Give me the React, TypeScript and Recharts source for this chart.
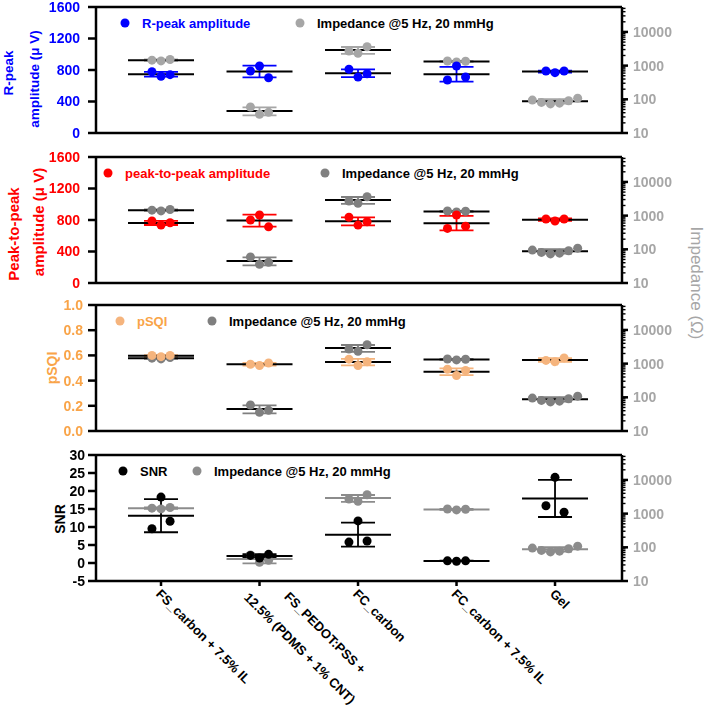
import React from "react";
import { ComposedChart, Scatter, XAxis, YAxis, ErrorBar } from "recharts";

const FONT = "'Liberation Sans', Arial, sans-serif";

const groups = [
  "FS_carbon + 7.5% IL",
  "FS_PEDOT:PSS +\n12.5% (PDMS + 1% CNT)",
  "FC_carbon",
  "FC_carbon + 7.5% IL",
  "Gel",
];

// values per group
const rPeakAmplitude = [[778, 720, 741], [787, 851, 702], [810, 711, 753], [673, 851, 711], [787, 766, 787]];
const peakToPeakAmplitude = [[787, 735, 765], [800, 864, 713], [835, 735, 778], [693, 864, 722], [813, 787, 813]];
const pSQI = [[0.6, 0.59, 0.6], [0.53, 0.52, 0.54], [0.57, 0.52, 0.55], [0.49, 0.44, 0.48], [0.56, 0.55, 0.58]];
const snr = [[9.5, 18.3, 11.6], [2.1, 1.4, 2.4], [5.8, 11.7, 6.1], [0.6, 0.5, 0.6], [15.9, 23.8, 14.1]];
const impedance = [[1450, 1380, 1520], [59, 36, 41], [2720, 2330, 3640], [1370, 1290, 1350], [95, 81, 73, 77, 91, 108]];

const amplitudeTicks = [0, 400, 800, 1200, 1600];
const pSQITicks = [0, 0.2, 0.4, 0.6, 0.8, 1.0];
const snrTicks = [-5, 0, 5, 10, 15, 20, 25, 30];
const impedanceMajor = [10, 100, 1000, 10000];
const impedanceDomain: [number, number] = [10, 55000];
const impedanceTicks = impedanceMajor.flatMap((d) =>
  [1, 2, 3, 4, 5, 6, 7, 8, 9].map((k) => d * k).filter((v) => v <= impedanceDomain[1])
);

const xTicks = [1, 2, 3, 4, 5];
const xDomain: [number, number] = [0.34, 5.68];

function points(values: number[][]) {
  return values.flatMap((v, i) =>
    v.map((y, j) => ({ x: i + 1 + (j - (v.length - 1) / 2) * 0.092, y }))
  );
}

function stats(values: number[][]) {
  return values.map((v, i) => {
    const mean = v.reduce((a, b) => a + b, 0) / v.length;
    const sd = Math.sqrt(v.reduce((a, b) => a + (b - mean) ** 2, 0) / (v.length - 1));
    return { x: i + 1, y: mean, err: sd };
  });
}

const axisStroke = { stroke: "#000", strokeWidth: 2.5 };

const panels = [
  {
    top: 1,
    values: rPeakAmplitude,
    name: "R-peak amplitude",
    color: "#0000FF",
    text: "#0000FF",
    imp: "#A6A6A6",
    impMean: "#000",
    domain: [0, 1600],
    ticks: amplitudeTicks,
    fmt: (v: number) => String(v),
    tickMargin: 8,
    titleSize: 13.5,
    title: [
      { t: "R-peak", x: 12.5, dy: 3 },
      { t: "amplitude (μ V)", x: 39, dy: 9 },
    ],
    legend: [29, 204],
  },
  {
    top: 151,
    values: peakToPeakAmplitude,
    name: "peak-to-peak amplitude",
    color: "#FF0000",
    text: "#FF0000",
    imp: "#808080",
    impMean: "#000",
    domain: [0, 1600],
    ticks: amplitudeTicks,
    fmt: (v: number) => String(v),
    tickMargin: 8,
    titleSize: 15,
    title: [
      { t: "Peak-to-peak", x: 19, dy: 14 },
      { t: "amplitude (μ V)", x: 44, dy: 2 },
    ],
    legend: [12, 229],
  },
  {
    top: 299,
    values: pSQI,
    name: "pSQI",
    color: "#F5B47D",
    text: "#F9A448",
    imp: "#7F7F7F",
    impMean: "#000",
    domain: [0, 1],
    ticks: pSQITicks,
    fmt: (v: number) => v.toFixed(1),
    tickMargin: 5,
    titleSize: 14,
    title: [{ t: "pSQI", x: 57, dy: 0 }],
    legend: [24, 116],
  },
  {
    top: 449,
    values: snr,
    name: "SNR",
    color: "#000",
    text: "#000",
    imp: "#8C8C8C",
    impMean: "#8C8C8C",
    domain: [-5, 30],
    ticks: snrTicks,
    fmt: (v: number) => String(v),
    tickMargin: 3,
    titleSize: 14,
    title: [{ t: "SNR", x: 65, dy: 1 }],
    legend: [27, 101],
  },
];

const meanLine = (color: string) => (p: any) => (
  <line x1={p.cx - 33} x2={p.cx + 33} y1={p.cy} y2={p.cy} stroke={color} strokeWidth={2} />
);

const dot = (color: string) => (p: any) => <circle cx={p.cx} cy={p.cy} r={4.5} fill={color} />;

function ImpedanceTick(props: any) {
  const { x, y, payload } = props;
  const major = impedanceMajor.includes(payload.value);
  return (
    <g>
      <line x1={x} x2={x + (major ? 6 : 3.5)} y1={y} y2={y} stroke="#000" strokeWidth={major ? 2.5 : 1.4} />
      {major && (
        <text x={x + 11} y={y} dy="0.35em" fill="#A6A6A6" fontSize={14} fontWeight="bold" fontFamily={FONT}>
          {payload.value}
        </text>
      )}
    </g>
  );
}

function GroupTick(props: any) {
  const { x, y, payload } = props;
  const lines = groups[payload.value - 1].split("\n");
  const pos = lines.length === 1 ? [{ x: 0, y: 8 }] : [{ x: 23, y: -11 }, { x: -5, y: 18 }];
  return (
    <g transform={`translate(${x},${y}) rotate(45)`}>
      {lines.map((t, i) => (
        <text key={i} x={pos[i].x} y={pos[i].y} fill="#000" fontSize={13} fontWeight="bold" fontFamily={FONT}>
          {t}
        </text>
      ))}
    </g>
  );
}

function Panel({ p, last }: { p: (typeof panels)[number]; last: boolean }) {
  const height = last ? 6 + 126 + 141 : 6 + 126 + 10;
  const titleContent = (props: any) => {
    const vb = props.viewBox;
    const cy = vb.y + vb.height / 2;
    return (
      <g>
        {p.title.map((l, i) => (
          <text
            key={i}
            transform={`translate(${l.x},${cy + l.dy}) rotate(-90)`}
            textAnchor="middle"
            fill={p.text}
            fontSize={p.titleSize}
            fontWeight="bold"
            fontFamily={FONT}
          >
            {l.t}
          </text>
        ))}
      </g>
    );
  };
  const legendContent = (props: any) => {
    const vb = props.viewBox;
    const y = vb.y + vb.height + 16;
    const items = [
      { label: p.name, dot: p.color, text: p.text },
      { label: "Impedance @5 Hz, 20 mmHg", dot: p.imp, text: "#000" },
    ];
    return (
      <g>
        {items.map((it, i) => (
          <g key={i}>
            <circle cx={vb.x + p.legend[i]} cy={y} r={4.5} fill={it.dot} />
            <text
              x={vb.x + p.legend[i] + 17}
              y={y}
              dy="0.35em"
              fill={it.text}
              fontSize={13}
              fontWeight="bold"
              fontFamily={FONT}
            >
              {it.label}
            </text>
          </g>
        ))}
      </g>
    );
  };
  const rightTitle = (props: any) => {
    const vb = props.viewBox;
    return (
      <text
        transform={`translate(${vb.x + 68.5},${vb.y + vb.height / 2 + 63}) rotate(90)`}
        textAnchor="middle"
        fill="#A6A6A6"
        fontSize={17}
        fontFamily={FONT}
      >
        Impedance (Ω)
      </text>
    );
  };

  return (
    <div style={{ position: "absolute", left: 0, top: p.top }}>
      <ComposedChart width={709} height={height} margin={{ top: 0, right: 0, bottom: 0, left: 0 }}>
        <XAxis
          xAxisId="top"
          orientation="top"
          type="number"
          dataKey="x"
          domain={xDomain}
          ticks={xTicks}
          height={6}
          tick={false}
          tickSize={5}
          axisLine={axisStroke}
          tickLine={axisStroke}
          label={legendContent}
        />
        <XAxis
          xAxisId="bottom"
          orientation="bottom"
          type="number"
          dataKey="x"
          domain={xDomain}
          ticks={xTicks}
          interval={0}
          height={last ? 141 : 10}
          tick={last ? GroupTick : false}
          tickSize={5}
          tickMargin={3}
          axisLine={axisStroke}
          tickLine={axisStroke}
        />
        <YAxis
          yAxisId="left"
          orientation="left"
          type="number"
          dataKey="y"
          width={96}
          domain={p.domain}
          ticks={p.ticks}
          interval={0}
          tickFormatter={p.fmt}
          tickSize={8}
          tickMargin={p.tickMargin}
          axisLine={axisStroke}
          tickLine={axisStroke}
          tick={{ fill: p.text, fontSize: 14, fontWeight: "bold", fontFamily: FONT }}
          label={titleContent}
        />
        <YAxis
          yAxisId="right"
          orientation="right"
          type="number"
          dataKey="y"
          scale="log"
          width={87}
          domain={impedanceDomain}
          ticks={impedanceTicks}
          interval={0}
          tickSize={0}
          tickMargin={0}
          tickLine={false}
          axisLine={axisStroke}
          tick={ImpedanceTick}
          label={p.top === 151 ? rightTitle : undefined}
        />
        <Scatter
          xAxisId="bottom"
          yAxisId="right"
          data={stats(impedance)}
          shape={meanLine(p.impMean)}
          isAnimationActive={false}
        >
          <ErrorBar dataKey="err" direction="y" width={17} stroke={p.imp} strokeWidth={1.8} isAnimationActive={false} />
        </Scatter>
        <Scatter
          xAxisId="bottom"
          yAxisId="left"
          data={stats(p.values)}
          shape={meanLine("#000")}
          isAnimationActive={false}
        >
          <ErrorBar dataKey="err" direction="y" width={17} stroke={p.color} strokeWidth={1.8} isAnimationActive={false} />
        </Scatter>
        <Scatter xAxisId="bottom" yAxisId="right" data={points(impedance)} shape={dot(p.imp)} isAnimationActive={false} />
        <Scatter xAxisId="bottom" yAxisId="left" data={points(p.values)} shape={dot(p.color)} isAnimationActive={false} />
      </ComposedChart>
    </div>
  );
}

export default function App() {
  return (
    <div style={{ position: "fixed", left: 0, top: 0, width: 709, height: 722, background: "#fff" }}>
      <style>{"svg.recharts-surface{overflow:visible}"}</style>
      {panels.map((p, i) => (
        <Panel key={i} p={p} last={i === panels.length - 1} />
      ))}
    </div>
  );
}
